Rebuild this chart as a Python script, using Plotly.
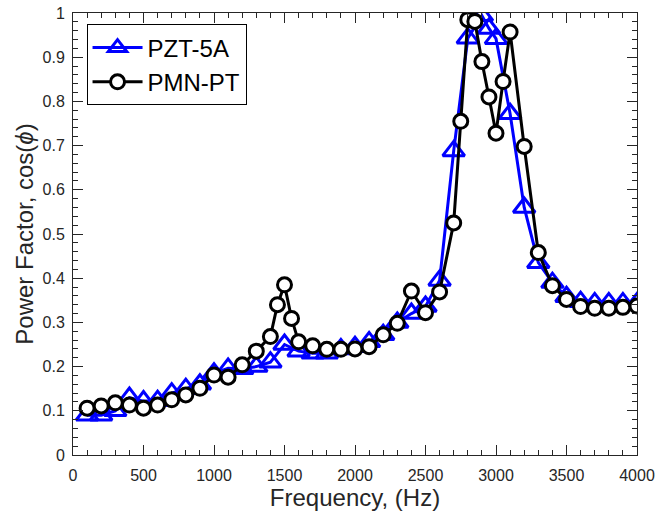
import plotly.graph_objects as go

# PZT-5A series
pzt_freq = [100, 200, 300, 400, 500, 600, 700, 800, 900, 1000,
            1100, 1200, 1300, 1400, 1500, 1600, 1700, 1800, 1900, 2000,
            2100, 2200, 2300, 2400, 2500, 2600, 2700, 2800, 2900, 2950,
            3000, 3100, 3200, 3300, 3400, 3500, 3600, 3700, 3800, 3900, 4000]
pzt_pf = [0.09, 0.09, 0.10, 0.13, 0.122, 0.123, 0.14, 0.15, 0.16, 0.185,
          0.196, 0.195, 0.20, 0.21, 0.25, 0.235, 0.23, 0.23, 0.24, 0.245,
          0.256, 0.272, 0.30, 0.32, 0.336, 0.395, 0.688, 0.943, 0.994, 0.965,
          0.942, 0.772, 0.56, 0.435, 0.39, 0.358, 0.347, 0.344, 0.344, 0.344, 0.344]

# PMN-PT series
pmn_freq = [100, 200, 300, 400, 500, 600, 700, 800, 900, 1000,
            1100, 1200, 1300, 1400, 1450, 1500, 1550, 1600, 1700, 1800,
            1900, 2000, 2100, 2200, 2300, 2400, 2500, 2600, 2700, 2750,
            2800, 2850, 2900, 2950, 3000, 3050, 3100, 3200, 3300, 3400,
            3500, 3600, 3700, 3800, 3900, 4000]
pmn_pf = [0.106, 0.111, 0.118, 0.113, 0.106, 0.113, 0.125, 0.136, 0.151, 0.181,
          0.176, 0.204, 0.235, 0.268, 0.340, 0.385, 0.309, 0.256, 0.247, 0.239,
          0.239, 0.240, 0.245, 0.272, 0.298, 0.371, 0.322, 0.369, 0.525, 0.755,
          0.985, 0.981, 0.890, 0.810, 0.728, 0.845, 0.957, 0.698, 0.458, 0.383,
          0.352, 0.336, 0.332, 0.332, 0.334, 0.337]

x_ticks = [0, 500, 1000, 1500, 2000, 2500, 3000, 3500, 4000]
y_ticks = [0, 0.1, 0.2, 0.3, 0.4, 0.5, 0.6, 0.7, 0.8, 0.9, 1]

axis_col = "#262626"
font_family = "Liberation Sans, Arial, sans-serif"

fig = go.Figure()
fig.add_trace(go.Scatter(
    x=pzt_freq, y=pzt_pf, name="PZT-5A", mode="lines+markers",
    line=dict(color="#0000FF", width=3),
    marker=dict(symbol="triangle-up-open", size=19, color="#0000FF",
                line=dict(color="#0000FF", width=3)),
))
fig.add_trace(go.Scatter(
    x=pmn_freq, y=pmn_pf, name="PMN-PT", mode="lines+markers",
    line=dict(color="#000000", width=3),
    marker=dict(symbol="circle", size=14, color="#FFFFFF",
                line=dict(color="#000000", width=3)),
))

common = dict(
    showline=True, linecolor=axis_col, linewidth=1, mirror="ticks",
    ticks="inside", ticklen=10, tickcolor=axis_col, tickwidth=1,
    showgrid=False, zeroline=False, automargin=False,
    tickfont=dict(size=16, color=axis_col, family=font_family),
)

fig.update_xaxes(
    range=[0, 4000], tickvals=x_ticks, ticklabelstandoff=6,
    minor=dict(dtick=100, ticks="inside", ticklen=5, tickcolor=axis_col, showgrid=False),
    title=dict(text="Frequency, (Hz)", font=dict(size=24, color=axis_col, family=font_family), standoff=4),
    **common,
)
fig.update_yaxes(
    range=[0, 1], tickvals=y_ticks, ticklabelstandoff=4,
    minor=dict(dtick=0.02, ticks="inside", ticklen=5, tickcolor=axis_col, showgrid=False),
    title=dict(text="Power Factor, cos(<i>ϕ</i>)", font=dict(size=24, color=axis_col, family=font_family), standoff=2),
    **common,
)

fig.update_layout(
    width=656, height=518,
    margin=dict(l=73, r=19, t=13, b=63, autoexpand=False),
    paper_bgcolor="white", plot_bgcolor="white",
    showlegend=True,
    legend=dict(
        x=0.024, y=0.974, xanchor="left", yanchor="top",
        bgcolor="white", bordercolor="#000000", borderwidth=1,
        font=dict(size=24, color="#000000", family=font_family),
        itemwidth=50, tracegroupgap=0,
    ),
)

# remove the page's default 8px body margin so the figure fills the window
fig.write_html(
    "out.html",
    config={"displayModeBar": False},
    post_script="document.body.style.margin='0';document.body.style.overflow='hidden';",
)
